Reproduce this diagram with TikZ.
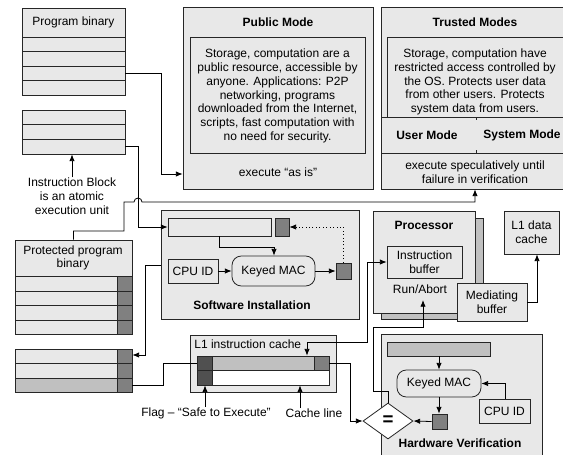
\documentclass[tikz,border=0pt]{standalone}
\usepackage{fontspec}
\setmainfont{Liberation Sans}
\usetikzlibrary{fit,shapes.geometric,arrows.meta}
\definecolor{lg}{RGB}{232,232,232}
\definecolor{mg}{RGB}{192,192,192}
\definecolor{dg}{RGB}{128,128,128}
\definecolor{xg}{RGB}{80,80,80}
\begin{document}
\begin{tikzpicture}[x=0.75pt,y=-0.75pt,
  font=\fontsize{9}{10.3}\selectfont, line width=0.6pt,
  bx/.style={draw=black!85, fill=lg, inner sep=0pt},
  lbl/.style={inner sep=0pt, align=center},
  ttl/.style={inner sep=0pt, font=\fontsize{9}{10.3}\selectfont\bfseries},
  arr/.style={-{Latex[length=5pt,width=4pt]}},
  darr/.style={{Latex[length=5pt,width=4pt]}-{Latex[length=5pt,width=4pt]}}
]
\useasboundingbox (0,0) rectangle (563,454);

% Program binary
\node[bx, fit={(22,8) (125,95)}] (pb) {};
\node[lbl] (pbt) at (73.5,22) {Program binary};
\foreach \y in {37,51,66,80} \draw[draw=black!85] (22,\y) -- (125,\y);

% Instruction block
\node[bx, fit={(22,110) (125,154)}] (ib) {};
\foreach \y in {124,139} \draw[draw=black!85] (22,\y) -- (125,\y);
\node[lbl] (ibl) at (72,196) {Instruction Block\\is an atomic\\execution unit};
\draw[arr] (ibl.north) -- (ibl.north |- ib.south);

% Public mode
\node[bx, fit={(183,7) (373,189)}] (pub) {};
\node[ttl] (pubt) at (278,22) {Public Mode};
\node[bx, fit={(190,37) (365,153)}] (pubin) {};
\node[lbl] (pubtxt) at (277.5,96) {Storage, computation are a\\public resource, accessible by\\anyone. Applications: P2P\\networking, programs\\downloaded from the Internet,\\scripts, fast computation with\\no need for security.};
\node[lbl] (pubex) at (278,172) {execute “as is”};

% Trusted modes
\node[bx, fit={(381,7) (568,189)}] (tr) {};
\node[ttl] (trt) at (475,22) {Trusted Modes};
\node[bx, fit={(387,37) (568,117)}] (trin) {};
\node[lbl] (trtxt) at (475,82) {Storage, computation have\\restricted access controlled by\\the OS. Protects user data\\from other users. Protects\\system data from users.};
\draw[draw=black!85] (381,117) -- (568,117) (381,153) -- (568,153);
\draw[draw=black!85] (476,117) -- (476,120) (476,150) -- (476,153);
\node[ttl] (um) at (427,135) {User Mode};
\node[ttl] (sm) at (522,135) {System Mode};
\node[lbl] (trex) at (475,172) {execute speculatively until\\failure in verification};

% Software installation
\node[bx, fit={(161,210) (359,319)}] (sw) {};
\node[bx, fit={(168,218) (271,236)}] (swbar) {};
\node[bx, fill=dg, fit={(275,218) (289,236)}] (sq1) {};
\node[bx, fit={(168,259) (218,283)}] (cpu1) {};
\node[lbl] at (cpu1) {CPU ID};
\node[bx, rounded corners=7pt, fit={(232,256) (315,286)}] (mac1) {};
\node[lbl] at (mac1) {Keyed MAC};
\node[bx, fill=dg, fit={(336,263) (351,279)}] (sq2) {};
\node[ttl] (swt) at (252,305) {Software Installation};
\draw[arr] (swbar.south -| 219,0) |- (274,247) -- (mac1.north -| 274,0);
\draw[arr] (cpu1) -- (mac1);
\draw[arr] (mac1) -- (sq2);
\draw[arr, dotted] (sq2.north) |- (sq1.east);

% Processor
\node[bx, fill=mg, fit={(381,218) (483,319)}] (procsh) {};
\node[bx, fit={(373,211) (475,313)}] (proc) {};
\node[ttl] (proct) at (424,225) {Processor};
\node[bx, fit={(387,246) (462,278)}] (ibuf) {};
\node[lbl] at (ibuf) {Instruction\\buffer};
\node[lbl] (ra) at (420,289) {Run/Abort};
\coordinate (raport) at (423,300);
\node[bx, fit={(457,283) (527,321)}] (mb) {};
\node[lbl] at (mb) {Mediating\\buffer};
\node[bx, fit={(504,211) (559,254)}] (l1d) {};
\node[lbl] at (l1d) {L1 data\\cache};

% Protected program binary
\node[bx, fit={(15,240) (132,334)}] (ppb) {};
\draw[draw=black!85, fill=dg] (117,276) rectangle (132,334);
\foreach \y in {276,291,305,320} \draw[draw=black!85] (15,\y) -- (132,\y);
\node[lbl] (ppbt) at (73,258) {Protected program\\binary};

\node[bx, fit={(15,349) (132,392)}] (ppb2) {};
\draw[draw=black!85, fill=mg] (15,378) rectangle (117,392);
\draw[draw=black!85, fill=dg] (117,349) rectangle (132,392);
\foreach \y in {363,378} \draw[draw=black!85] (15,\y) -- (132,\y);

% L1 instruction cache
\node[bx, fit={(190,335) (336,392)}] (l1) {};
\node[lbl, anchor=west] (l1t) at (194,344) {L1 instruction cache};
\node[draw=black!85, fill=mg, inner sep=0pt, fit={(197,356) (329,370)}] (cl) {};
\draw[draw=black!85, fill=xg] (197,356) rectangle (212,370);
\draw[draw=black!85, fill=dg] (314,356) rectangle (329,370);
\node[draw=black!85, fill=white, inner sep=0pt, fit={(197,370) (329,385)}] (cl2) {};
\draw[draw=black!85, fill=xg] (197,370) rectangle (212,385);
\node[lbl] (flag) at (206,413) {Flag – “Safe to Execute”};
\node[lbl] (cline) at (314,413) {Cache line};
\draw[arr] (flag.north -| 205,0) -- (cl2.south -| 205,0);
\draw[arr] (cline.north -| 300,0) -- (cl2.south -| 300,0);

% Hardware verification
\node[bx, fit={(381,334) (542,462)}] (hv) {};
\node[bx, fill=mg, fit={(387,342) (490,356)}] (hvbar) {};
\node[bx, rounded corners=7pt, fit={(397,370) (481,397)}] (mac2) {};
\node[lbl] at (mac2) {Keyed MAC};
\node[bx, fill=dg, fit={(432,414) (447,429)}] (sq3) {};
\node[bx, fit={(479,399) (530,423)}] (cpu2) {};
\node[lbl] at (cpu2) {CPU ID};
\node[diamond, draw=black!85, fill=white, minimum width=37.5pt, minimum height=27pt, inner sep=0pt] (eq) at (388,421) {\bfseries\fontsize{14}{14}\selectfont =};
\node[ttl] (hvt) at (460,443) {Hardware Verification};
\draw[arr] (hvbar.south -| mac2.north) -- (mac2.north);
\draw[arr] (mac2.south) -- (sq3.north -| mac2.south);
\draw[arr] (cpu2.north -| 505,0) |- (mac2.east);
\draw[arr] (sq3.west) -- (eq.east);

% Connectors
\draw[arr] (pb.east |- 0,73) -- (161,73) |- (pub.west |- 0,174);
\draw[arr] (ib.east |- 0,146) -- (138,146) |- (swbar.west);
\draw[arr] (ppb.north) |- (124,231) -- (124,202) -- (134,202) arc[start angle=180, end angle=360, radius=4] -- (475,202) -- (tr.south -| 475,0);
\draw[arr] (sw.west |- 0,265) -- (145,265) |- (ppb2.east |- 0,355);
\draw (ppb2.east |- 0,385) -- (163,385) |- (cl.west);
\draw[arr] (cl.east) -- (350,363) |- (eq.west);
\draw[darr] (cl.north -| 307,0) |- (367,342) |- (ibuf.west);
\draw[arr] (eq.north) |- (373,391) |- (423,327) -- (raport);
\draw[arr] (mb.east) -| (l1d.south -| 537,0);
\end{tikzpicture}
\end{document}
